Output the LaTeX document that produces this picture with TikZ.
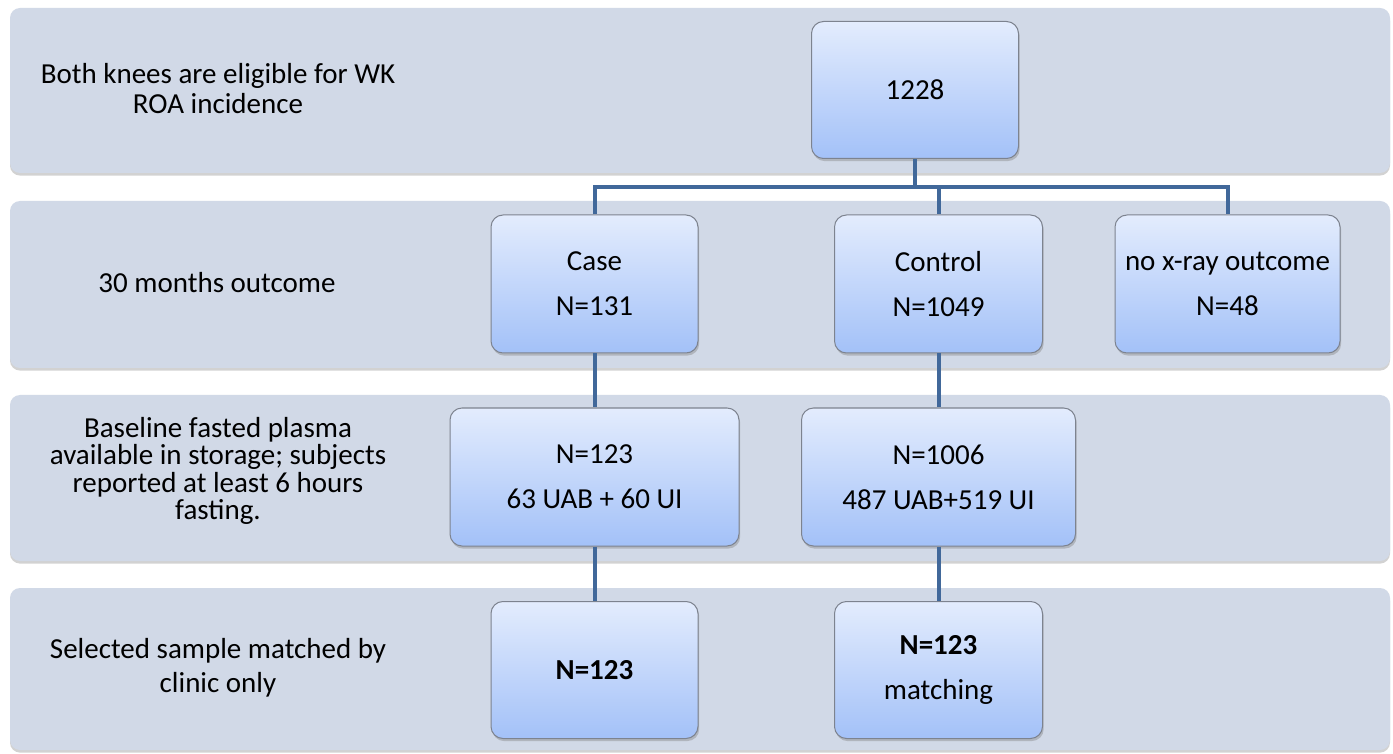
\documentclass[tikz,border=0pt]{standalone}
\usepackage{fontspec}
\setmainfont{Carlito}
\usetikzlibrary{shadows}
\definecolor{bandfill}{HTML}{D1D9E7}
\definecolor{boxtop}{HTML}{E3ECFD}
\definecolor{boxbot}{HTML}{A3C1F8}
\definecolor{boxline}{HTML}{7D838F}
\definecolor{linkblue}{HTML}{41689A}
\tikzset{
  band/.style={
    fill=bandfill, draw=none, rounded corners=5pt, inner sep=0pt,
    minimum width=690pt, minimum height=#1,
    drop shadow={shadow xshift=0pt, shadow yshift=-1.3pt, opacity=0.35}
  },
  band/.default=82.5pt,
  nbox/.style={
    draw=boxline, line width=0.5pt, top color=boxtop, bottom color=boxbot,
    rounded corners=6pt, inner sep=2pt, align=center,
    minimum width=#1, minimum height=68.5pt,
    font=\fontsize{14.5}{17.5}\selectfont,
    drop shadow={shadow xshift=0.6pt, shadow yshift=-1.3pt, opacity=0.4}
  },
  nbox/.default=103.5pt,
  rowlab/.style={align=center, font=\fontsize{14.5}{#1}\selectfont},
  rowlab/.default=15pt,
  link/.style={draw=linkblue, line width=2pt}
}
\begin{document}
\begin{tikzpicture}[x=0.5pt,y=-0.5pt]
  \fill[white] (0,0) rectangle (1393,754);
  \useasboundingbox (0,0) rectangle (1393,754);

  % background rows
  \node[band] (band1) at (700,90.5) {};
  \node[band=83.5pt] (band2) at (700,284.5) {};
  \node[band=83pt] (band3) at (700,478) {};
  \node[band=81pt] (band4) at (700,669) {};

  % row labels
  \node[rowlab] (lab1) at (218,89) {Both knees are eligible for WK\\ROA incidence};
  \node[rowlab] (lab2) at (217,283) {30 months outcome};
  \node[rowlab=13.7pt] (lab3) at (218,471) {Baseline fasted plasma\\available in storage; subjects\\reported at least 6 hours\\fasting.};
  \node[rowlab=17pt] (lab4) at (218,668) {Selected sample matched by\\clinic only};

  % boxes
  \node[nbox] (total) at (915,90) {1228};
  \node[nbox, minimum height=69pt] (case) at (594.5,284) {Case\\[5pt]N=131};
  \node[nbox=104pt, minimum height=69pt] (ctrl) at (938.5,284) {Control\\[5pt]N=1049};
  \node[nbox=112.5pt, minimum height=69pt] (noxray) at (1227.5,284) {no x-ray outcome\\[5pt]N=48};
  \node[nbox=144.5pt, minimum height=69pt] (casepl) at (594.5,477) {N=123\\[5pt]63 UAB + 60 UI};
  \node[nbox=137pt, minimum height=69pt] (ctrlpl) at (938.5,477) {N=1006\\[5pt]487 UAB+519 UI};
  \node[nbox] (casesel) at (594.5,670) {\textbf{N=123}};
  \node[nbox=104pt] (ctrlsel) at (938.5,670) {\textbf{N=123}\\[5pt]matching};

  % connectors
  \coordinate (split) at (915,187);
  \draw[link] (total.south) -- (split);
  \draw[link] (case.north) |- (split) -| (noxray.north);
  \draw[link] (split) -| (ctrl.north);
  \draw[link] (case.south) -- (casepl.north);
  \draw[link] (casepl.south) -- (casesel.north);
  \draw[link] (ctrl.south) -- (ctrlpl.north);
  \draw[link] (ctrlpl.south) -- (ctrlsel.north);
\end{tikzpicture}
\end{document}
